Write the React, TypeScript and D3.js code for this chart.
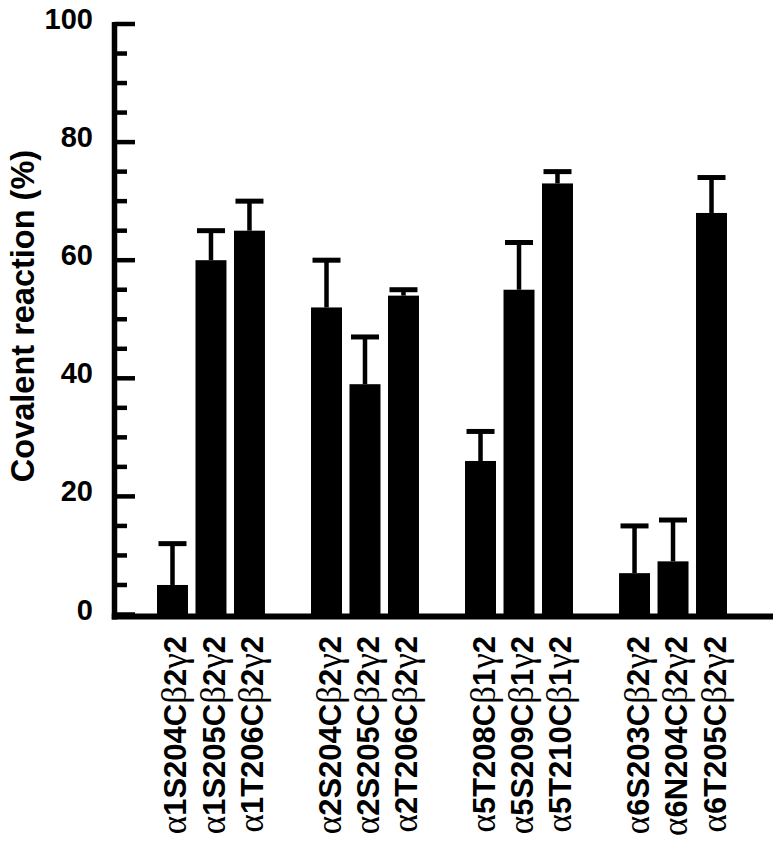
import React from 'react'
import { scaleLinear, scaleBand, range } from 'd3'

// receptor groups and the three mutants in each
const groups = ['a1', 'a2', 'a5', 'a6']
const labels = [
  'α1S204Cβ2γ2', 'α1S205Cβ2γ2', 'α1T206Cβ2γ2',
  'α2S204Cβ2γ2', 'α2S205Cβ2γ2', 'α2T206Cβ2γ2',
  'α5T208Cβ1γ2', 'α5S209Cβ1γ2', 'α5T210Cβ1γ2',
  'α6S203Cβ2γ2', 'α6N204Cβ2γ2', 'α6T205Cβ2γ2',
]
const groupOf = [0, 0, 0, 1, 1, 1, 2, 2, 2, 3, 3, 3]
const slotOf = [0, 1, 2, 0, 1, 2, 0, 1, 2, 0, 1, 2]
const values = [5, 60, 65, 52, 39, 54, 26, 55, 73, 7, 9, 68]
const errors = [7, 5, 5, 8, 8, 1, 5, 8, 2, 8, 7, 6]
const yTicks = [0, 20, 40, 60, 80, 100]

const sans = 'Arial, "Liberation Sans", sans-serif'
const serif = '"Times New Roman", "Liberation Serif", serif'

// split a label so the greek letters get the serif face
const LabelText = ({ text }) => {
  const parts = text.split(/([αβγ])/).filter(p => p !== '')
  return (
    <>
      {parts.map((p, i) => /[αβγ]/.test(p)
        ? <tspan key={i} fontFamily={serif} fontWeight='normal' fontSize={35}>{p}</tspan>
        : <tspan key={i} fontFamily={sans} fontWeight='bold' fontSize={31}>{p}</tspan>)}
    </>
  )
}

const App = () => {
  const width = 780
  const height = 847
  const x0 = 157
  const xEnd = 773
  const axisX = 114.5

  const yScale = scaleLinear().domain([0, 100]).range([614.5, 24])
  const xGroup = scaleBand().domain(groups).range([x0, x0 + 570]).paddingInner(0.299).paddingOuter(0)
  const xBar = scaleBand().domain(['0', '1', '2']).range([0, xGroup.bandwidth()]).paddingInner(0.195).paddingOuter(0)
  const bw = xBar.bandwidth()
  const barX = i => xGroup(groups[groupOf[i]]) + xBar(String(slotOf[i]))

  const minorTicks = range(0, 101, 5)

  return (
    <svg width={width} height={height} style={{ position: 'absolute', left: 0, top: 0, background: 'white' }}>
      {/* bars */}
      {values.map((v, i) => (
        <rect key={i} x={barX(i)} y={yScale(v)} width={bw} height={yScale(0) - yScale(v)} fill='black' />
      ))}
      {/* error bars, upper only */}
      {values.map((v, i) => {
        const cx = barX(i) + bw / 2
        const top = yScale(v + errors[i])
        return (
          <g key={i}>
            <line x1={cx} x2={cx} y1={yScale(v)} y2={top} stroke='black' strokeWidth={4.5} />
            <line x1={cx - 14} x2={cx + 14} y1={top} y2={top} stroke='black' strokeWidth={5} />
          </g>
        )
      })}

      {/* axes */}
      <line x1={axisX} x2={axisX} y1={yScale(100) - 2} y2={yScale(0) + 5} stroke='black' strokeWidth={5.5} />
      <line x1={axisX - 2.75} x2={xEnd} y1={yScale(0) + 2} y2={yScale(0) + 2} stroke='black' strokeWidth={6} />
      {minorTicks.map(t => (
        <line key={t} x1={axisX} x2={t % 20 === 0 ? 135 : 127} y1={yScale(t)} y2={yScale(t)} stroke='black' strokeWidth={4.5} />
      ))}
      {yTicks.map(t => (
        <text key={t} x={93} y={yScale(t) + 5} textAnchor='end' fontFamily={sans} fontWeight='bold' fontSize={29}>{t}</text>
      ))}

      {/* y title */}
      <text transform={`translate(34,316) rotate(-90)`} textAnchor='middle' fontFamily={sans} fontWeight='bold' fontSize={32.5}>
        Covalent reaction (%)
      </text>

      {/* category labels */}
      {labels.map((l, i) => (
        <text key={l} transform={`translate(${barX(i) + bw / 2 + 14},636) rotate(-90)`} textAnchor='end'>
          <LabelText text={l} />
        </text>
      ))}
    </svg>
  )
}

export default App
